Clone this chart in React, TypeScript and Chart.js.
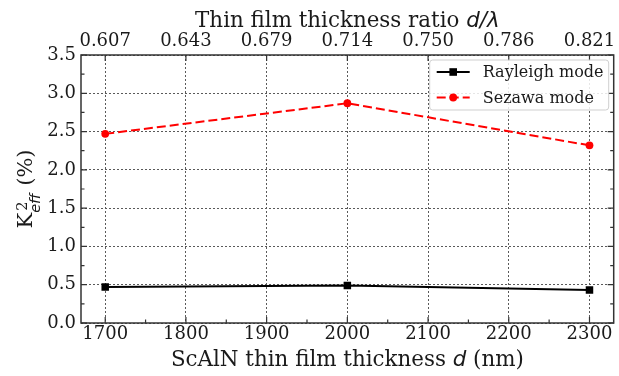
import React, { useEffect, useRef } from 'react';
import { Chart, registerables } from 'chart.js';

Chart.register(...registerables);

// ---- Data ----
const thicknessNm = [1700, 2000, 2300];
const rayleighK2 = [0.47, 0.49, 0.43];
const sezawaK2 = [2.47, 2.87, 2.32];
const seriesLabels = ['Rayleigh mode', 'Sezawa mode'];

const bottomTicks = [1700, 1800, 1900, 2000, 2100, 2200, 2300];
const bottomMinorTicks = [1750, 1850, 1950, 2050, 2150, 2250];
const topTickLabels = ['0.607', '0.643', '0.679', '0.714', '0.750', '0.786', '0.821'];
const yTicks = [0, 0.5, 1, 1.5, 2, 2.5, 3, 3.5];
const yMinorTicks = [0.25, 0.75, 1.25, 1.75, 2.25, 2.75, 3.25];

const xMin = 1670;
const xMax = 2330;
const yMin = 0;
const yMax = 3.5;

const bottomTitleParts = ['ScAlN thin film thickness ', 'd', ' (nm)'];
const topTitleParts = ['Thin film thickness ratio ', 'd/λ'];

const SERIF = "'DejaVu Serif', serif";
const MATHIT = "'DejaVu Sans', sans-serif";
const TEXT = '#1a1a1a';

function drawParts(ctx: CanvasRenderingContext2D, parts: string[], cx: number, baseline: number, size: number) {
  const fonts = parts.map((_, i) => (i % 2 === 1 ? `italic ${size}px ${MATHIT}` : `${size}px ${SERIF}`));
  let total = 0;
  const widths = parts.map((p, i) => {
    ctx.font = fonts[i];
    const w = ctx.measureText(p).width;
    total += w;
    return w;
  });
  let x = cx - total / 2;
  ctx.textAlign = 'left';
  ctx.textBaseline = 'alphabetic';
  parts.forEach((p, i) => {
    ctx.font = fonts[i];
    ctx.fillText(p, x, baseline);
    x += widths[i];
  });
}

const decorPlugin = {
  id: 'decor',
  beforeDatasetsDraw(chart: any) {
    const { ctx, chartArea: a, scales } = chart;
    const xs = scales.x;
    const ys = scales.y;
    ctx.save();
    // frame
    ctx.strokeStyle = '#333';
    ctx.lineWidth = 1.5;
    ctx.setLineDash([]);
    ctx.strokeRect(a.left, a.top, a.right - a.left, a.bottom - a.top);
    // inward ticks
    ctx.lineWidth = 1.2;
    const major = 6;
    const minor = 3.5;
    ctx.beginPath();
    bottomTicks.forEach((v) => {
      const px = xs.getPixelForValue(v);
      ctx.moveTo(px, a.bottom);
      ctx.lineTo(px, a.bottom - major);
      ctx.moveTo(px, a.top);
      ctx.lineTo(px, a.top + major);
    });
    bottomMinorTicks.forEach((v) => {
      const px = xs.getPixelForValue(v);
      ctx.moveTo(px, a.bottom);
      ctx.lineTo(px, a.bottom - minor);
    });
    yTicks.forEach((v) => {
      const py = ys.getPixelForValue(v);
      ctx.moveTo(a.left, py);
      ctx.lineTo(a.left + major, py);
      ctx.moveTo(a.right, py);
      ctx.lineTo(a.right - major, py);
    });
    yMinorTicks.forEach((v) => {
      const py = ys.getPixelForValue(v);
      ctx.moveTo(a.left, py);
      ctx.lineTo(a.left + minor, py);
      ctx.moveTo(a.right, py);
      ctx.lineTo(a.right - minor, py);
    });
    ctx.stroke();
    ctx.restore();
  },
  afterDatasetsDraw(chart: any) {
    const { ctx, chartArea: a } = chart;
    ctx.save();
    ctx.fillStyle = TEXT;
    const cx = (a.left + a.right) / 2;
    // titles
    drawParts(ctx, bottomTitleParts, cx, 366, 21.4);
    drawParts(ctx, topTitleParts, cx, 27, 21.4);

    // y label: K^2_eff (%)
    ctx.save();
    ctx.translate(0, (a.top + a.bottom) / 2);
    ctx.rotate(-Math.PI / 2);
    const base = 32;
    ctx.font = `21px ${SERIF}`;
    const wK = ctx.measureText('K').width;
    ctx.font = `14.5px ${SERIF}`;
    const w2 = ctx.measureText('2').width;
    ctx.font = `italic 14.5px ${MATHIT}`;
    const wEff = ctx.measureText('eff').width;
    ctx.font = `21px ${SERIF}`;
    const wRest = ctx.measureText(' (%)').width;
    const total = wK + Math.max(w2, wEff) + 1 + wRest;
    let x = -total / 2;
    ctx.textAlign = 'left';
    ctx.textBaseline = 'alphabetic';
    ctx.font = `21px ${SERIF}`;
    ctx.fillText('K', x, base);
    x += wK;
    ctx.font = `14.5px ${SERIF}`;
    ctx.fillText('2', x + 2, base - 5);
    ctx.font = `italic 14.5px ${MATHIT}`;
    ctx.fillText('eff', x, base + 8);
    x += Math.max(w2, wEff) + 1;
    ctx.font = `21px ${SERIF}`;
    ctx.fillText(' (%)', x, base);
    ctx.restore();

    // legend
    const lx = a.right - 184;
    const ly = a.top + 5;
    const lw = 179;
    const lh = 50;
    ctx.beginPath();
    const r = 3;
    ctx.moveTo(lx + r, ly);
    ctx.arcTo(lx + lw, ly, lx + lw, ly + lh, r);
    ctx.arcTo(lx + lw, ly + lh, lx, ly + lh, r);
    ctx.arcTo(lx, ly + lh, lx, ly, r);
    ctx.arcTo(lx, ly, lx + lw, ly, r);
    ctx.closePath();
    ctx.fillStyle = 'rgba(255,255,255,0.85)';
    ctx.fill();
    ctx.strokeStyle = '#cfcfcf';
    ctx.lineWidth = 1;
    ctx.stroke();

    chart.data.datasets.forEach((ds: any, i: number) => {
      const rowY = ly + 12 + i * 25.5;
      const x0 = lx + 7;
      const x1 = lx + 40;
      ctx.strokeStyle = ds.borderColor;
      ctx.lineWidth = ds.borderWidth;
      ctx.setLineDash(ds.borderDash || []);
      ctx.beginPath();
      ctx.moveTo(x0, rowY);
      ctx.lineTo(x1, rowY);
      ctx.stroke();
      ctx.setLineDash([]);
      ctx.fillStyle = ds.pointBackgroundColor;
      const mx = (x0 + x1) / 2;
      if (ds.pointStyle === 'rect') {
        ctx.fillRect(mx - 3.8, rowY - 3.8, 7.6, 7.6);
      } else {
        ctx.beginPath();
        ctx.arc(mx, rowY, 3.9, 0, Math.PI * 2);
        ctx.fill();
      }
      ctx.fillStyle = TEXT;
      ctx.font = `16px ${SERIF}`;
      ctx.textAlign = 'left';
      ctx.textBaseline = 'middle';
      ctx.fillText(ds.label, lx + 53, rowY + 1);
    });
    ctx.restore();
  },
};

export default function App() {
  const ref = useRef<HTMLCanvasElement | null>(null);
  useEffect(() => {
    document.body.style.margin = '0';
    const canvas = ref.current!;
    const tickFont = { family: SERIF, size: 18 };
    const chart = new Chart(canvas, {
      type: 'line',
      data: {
        datasets: [
          {
            label: seriesLabels[0],
            data: thicknessNm.map((x, i) => ({ x, y: rayleighK2[i] })),
            borderColor: '#000000',
            backgroundColor: '#000000',
            pointBackgroundColor: '#000000',
            pointBorderColor: '#000000',
            borderWidth: 2,
            pointStyle: 'rect',
            pointRadius: 5.3,
            pointBorderWidth: 0,
            xAxisID: 'x',
            yAxisID: 'y',
          } as any,
          {
            label: seriesLabels[1],
            data: thicknessNm.map((x, i) => ({ x, y: sezawaK2[i] })),
            borderColor: '#ff0000',
            backgroundColor: '#ff0000',
            pointBackgroundColor: '#ff0000',
            pointBorderColor: '#ff0000',
            borderWidth: 2,
            borderDash: [9, 4],
            pointStyle: 'circle',
            pointRadius: 3.9,
            pointBorderWidth: 0,
            xAxisID: 'x',
            yAxisID: 'y',
          } as any,
        ],
      },
      options: {
        responsive: false,
        animation: false,
        devicePixelRatio: 1,
        layout: { padding: { top: 0, left: 0, right: 2, bottom: 0 } },
        plugins: { legend: { display: false }, tooltip: { enabled: false } },
        scales: {
          x: {
            type: 'linear',
            position: 'bottom',
            min: xMin,
            max: xMax,
            afterBuildTicks: (s: any) => {
              s.ticks = bottomTicks.map((value) => ({ value }));
            },
            afterFit: (s: any) => {
              s.height = 53;
            },
            ticks: {
              font: tickFont,
              color: TEXT,
              padding: 1,
              maxRotation: 0,
              autoSkip: false,
              callback: (v: any) => String(v),
            },
            grid: { display: true, drawTicks: false, color: '#5a5a5a', lineWidth: 1 },
            border: { display: false, dash: [2, 2] },
          },
          x2: {
            type: 'linear',
            position: 'top',
            min: xMin,
            max: xMax,
            afterBuildTicks: (s: any) => {
              s.ticks = bottomTicks.map((value) => ({ value }));
            },
            afterFit: (s: any) => {
              s.height = 55;
            },
            ticks: {
              font: tickFont,
              color: TEXT,
              padding: 3,
              maxRotation: 0,
              autoSkip: false,
              callback: (_v: any, i: number) => topTickLabels[i],
            },
            grid: { display: false, drawTicks: false },
            border: { display: false },
          },
          y: {
            type: 'linear',
            position: 'left',
            min: yMin,
            max: yMax,
            afterBuildTicks: (s: any) => {
              s.ticks = yTicks.map((value) => ({ value }));
            },
            afterFit: (s: any) => {
              s.width = 81;
            },
            ticks: {
              font: tickFont,
              color: TEXT,
              padding: 5,
              callback: (v: any) => Number(v).toFixed(1),
            },
            grid: { display: true, drawTicks: false, color: '#5a5a5a', lineWidth: 1 },
            border: { display: false, dash: [2, 2] },
          },
        },
      } as any,
      plugins: [decorPlugin],
    });
    return () => chart.destroy();
  }, []);
  return (
    <div style={{ position: 'absolute', left: 0, top: 0, width: 619, height: 376, background: '#fff' }}>
      <canvas ref={ref} width={619} height={376} style={{ display: 'block' }} />
    </div>
  );
}
